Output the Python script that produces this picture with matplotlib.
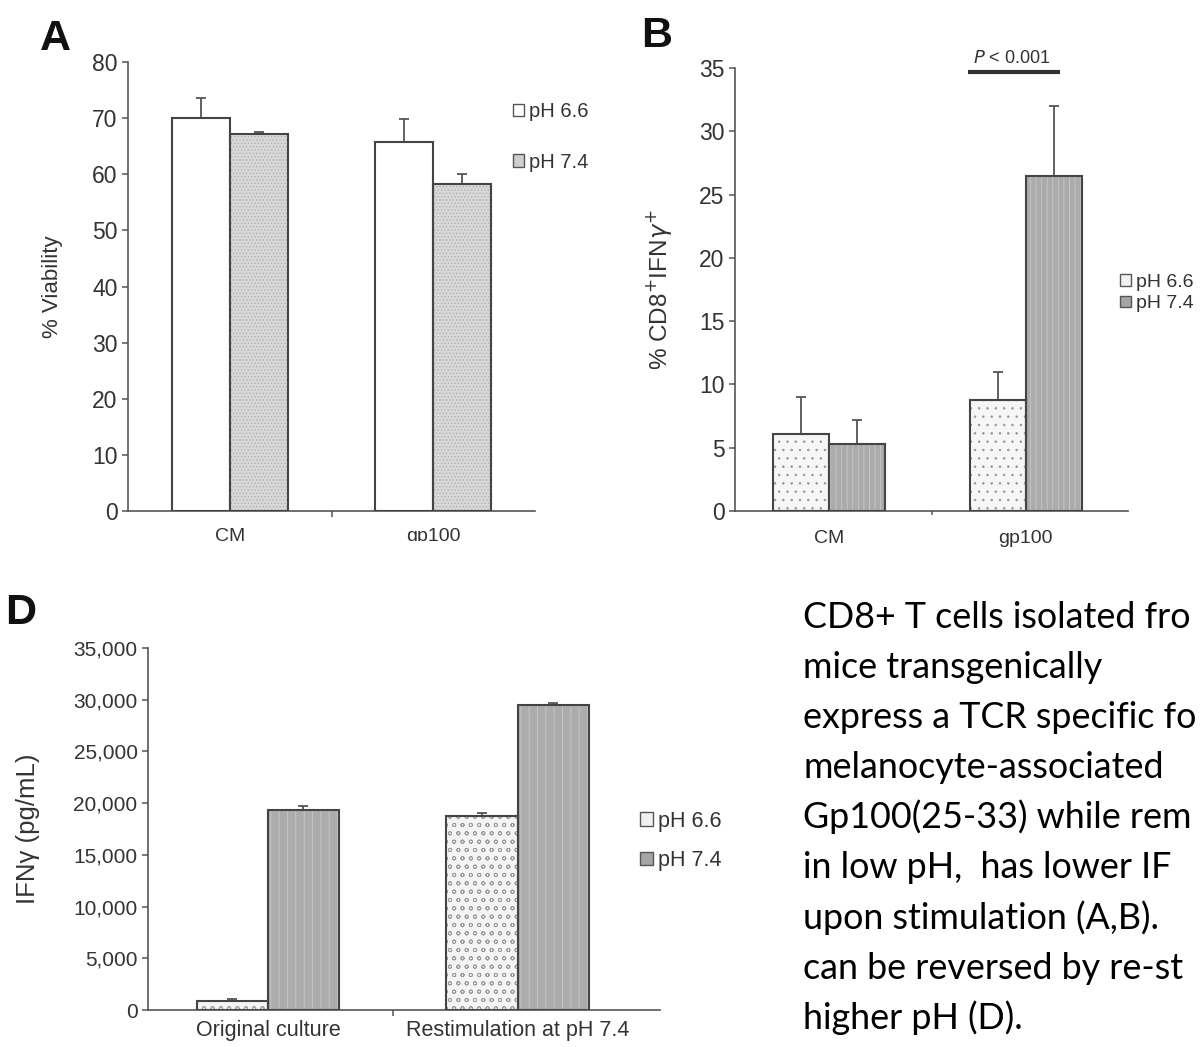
import matplotlib
matplotlib.use('Agg')
import matplotlib.pyplot as plt
from matplotlib.patches import Patch, Rectangle
from matplotlib.ticker import FuncFormatter
import numpy as np

# Panel A: % viability
a_groups = ["CM", "gp100"]
a_ph66 = [70.0, 65.8]
a_ph66_err = [3.5, 4.0]
a_ph74 = [67.2, 58.3]
a_ph74_err = [0.3, 1.7]

# Panel B: % CD8+ IFNg+
b_groups = ["CM", "gp100"]
b_ph66 = [6.1, 8.8]
b_ph66_err = [2.9, 2.2]
b_ph74 = [5.3, 26.5]
b_ph74_err = [1.9, 5.5]

# Panel D: IFNg (pg/mL)
d_groups = ["Original culture", "Restimulation at pH 7.4"]
d_ph66 = [900, 18800]
d_ph66_err = [150, 200]
d_ph74 = [19300, 29500]
d_ph74_err = [400, 150]

legend_labels = ["pH 6.6", "pH 7.4"]

# caption as it shows in the source (cut at the right edge)
caption = ["CD8+ T cells isolated fro",
           "mice transgenically",
           "express a TCR specific fo",
           "melanocyte-associated",
           "Gp100(25-33) while rem",
           "in low pH,  has lower IF",
           "upon stimulation (A,B).",
           "can be reversed by re-st",
           "higher pH (D)."]

W, H = 1204, 1047
plt.rcParams['font.family'] = ['Liberation Sans', 'DejaVu Sans']
plt.rcParams['hatch.linewidth'] = 0.6
fig = plt.figure(figsize=(W / 100, H / 100), dpi=100)

AX = '#555555'
EDGE = '#444444'
TXT = '#333333'


def fbox(l, r, t, b):
    return [l / W, 1 - b / H, (r - l) / W, (b - t) / H]


def style(ax):
    for s in ['top', 'right']:
        ax.spines[s].set_visible(False)
    for s in ['left', 'bottom']:
        ax.spines[s].set_color(AX)
        ax.spines[s].set_linewidth(1.2)
    ax.tick_params(axis='both', colors=AX, labelcolor=TXT, length=4, width=1.1)


def bars(ax, x, h, err, face, hatch, hcol, width):
    ax.bar(x, h, width, color=face, edgecolor=hcol, hatch=hatch, linewidth=0, zorder=2)
    ax.bar(x, h, width, fill=False, edgecolor=EDGE, linewidth=1.5, zorder=3)
    ax.errorbar(x, h, yerr=[np.zeros(len(h)), err], fmt='none', ecolor=AX,
                elinewidth=1.3, capsize=3.5, capthick=1.3, zorder=1)


def legend(ax, handles, x, y, size, spacing, hsize=0.55):
    ax.legend(handles, legend_labels, loc='center left', bbox_to_anchor=(x / W, 1 - y / H),
              bbox_transform=fig.transFigure, frameon=False, fontsize=size,
              handlelength=hsize, handleheight=hsize, handletextpad=0.25,
              labelspacing=spacing, borderpad=0, borderaxespad=0, labelcolor=TXT)


# ---------------- Panel A ----------------
axA = fig.add_axes(fbox(128, 535, 62, 511))
style(axA)
w = 0.285
xa = np.array([0.5, 1.5])
bars(axA, xa - w / 2, a_ph66, a_ph66_err, 'white', None, EDGE, w)
bars(axA, xa + w / 2, a_ph74, a_ph74_err, '#d8d8d8', '.....', '#b0b0b0', w)
axA.set_xlim(0, 2)
axA.set_ylim(0, 80)
axA.set_yticks(range(0, 81, 10))
axA.set_xticks([1])
axA.set_xticklabels([''])
for x, g in zip(xa, a_groups):
    axA.text(x, -3.0, g, ha='center', va='top', fontsize=14, color=TXT)
axA.tick_params(axis='y', labelsize=16.5)
axA.set_ylabel('% Viability', fontsize=16, color=TXT)
axA.yaxis.set_label_coords(-0.16, 0.5)
legend(axA, [Patch(facecolor='white', edgecolor=AX, linewidth=1),
             Patch(facecolor='#cfcfcf', edgecolor=AX, linewidth=1)],
       513, 137, 14.5, 1.55)

# ---------------- Panel B ----------------
axB = fig.add_axes(fbox(735, 1128, 68, 511))
style(axB)
w = 0.285
xb = np.array([0.48, 1.48])
bars(axB, xb - w / 2, b_ph66, b_ph66_err, '#f6f6f6', '..', '#9a9a9a', w)
bars(axB, xb + w / 2, b_ph74, b_ph74_err, '#ababab', '|||', '#c8c8c8', w)
axB.set_xlim(0, 2)
axB.set_ylim(0, 35)
axB.set_yticks(range(0, 36, 5))
axB.set_xticks([1])
axB.set_xticklabels([''])
axB.tick_params(axis='x', length=3)
for x, g in zip(xb, b_groups):
    axB.text(x, -1.5, g, ha='center', va='top', fontsize=14, color=TXT)
axB.tick_params(axis='y', labelsize=16.5)
axB.set_ylabel('% CD8$^{+}$IFN$\\gamma^{+}$', fontsize=17.5, color=TXT)
axB.yaxis.set_label_coords(-0.155, 0.5)
axB.plot([1.186, 1.654], [34.68, 34.68], color='#333333', lw=3,
         clip_on=False, solid_capstyle='butt')
axB.text(1.41, 35.1, '$P$ < 0.001', ha='center', va='bottom', fontsize=13,
         color=TXT)
legend(axB, [Patch(facecolor='#f0f0f0', edgecolor=AX, linewidth=1),
             Patch(facecolor='#a5a5a5', edgecolor=AX, linewidth=1)],
       1120, 293, 14, 0.25)

# ---------------- Panel D ----------------
axD = fig.add_axes(fbox(148, 660, 648, 1010))
style(axD)
w = 0.285
xd = np.array([0.5, 1.5])
bars(axD, xd - w / 2, d_ph66, d_ph66_err, '#f4f4f4', 'oo', '#9a9a9a', w)
bars(axD, xd + w / 2, d_ph74, d_ph74_err, '#acacac', '||', '#c8c8c8', w)
axD.set_xlim(0.02, 2.07)
axD.set_ylim(0, 35000)
axD.set_yticks(range(0, 35001, 5000))
axD.yaxis.set_major_formatter(FuncFormatter(lambda v, p: f'{v:,.0f}'))
axD.set_xticks([1])
axD.set_xticklabels([''])
for x, g in zip(xd, d_groups):
    axD.text(x, -1000, g, ha='center', va='top', fontsize=15.5, color=TXT)
axD.tick_params(axis='y', labelsize=15)
axD.set_ylabel('IFN\u03b3 (pg/mL)', fontsize=18.5, color=TXT)
axD.yaxis.set_label_coords(-0.21, 0.5)
legend(axD, [Patch(facecolor='#f0f0f0', edgecolor=AX, linewidth=1),
             Patch(facecolor='#a5a5a5', edgecolor=AX, linewidth=1)],
       640, 841, 15.5, 0.85, hsize=0.6)

# panel letters
fig.text(40 / W, 1 - 50 / H, 'A', fontsize=31, fontweight='bold', color='#111111')
fig.text(641 / W, 1 - 47 / H, 'B', fontsize=31, fontweight='bold', color='#111111')
fig.text(5 / W, 1 - 624 / H, 'D', fontsize=31, fontweight='bold', color='#111111')

# lower parts of panel A's category labels are cut off in the source image
fig.add_artist(Rectangle((0, 1 - 578 / H), 0.55, 37 / H, transform=fig.transFigure,
                         facecolor='white', edgecolor='none', zorder=10))

# caption text
for i, line in enumerate(caption):
    fig.text(803 / W, 1 - (628 + i * 50.1) / H, line, fontsize=25.8, family='Lato',
             color='black', va='baseline')

fig.savefig('out.png', dpi=100)
